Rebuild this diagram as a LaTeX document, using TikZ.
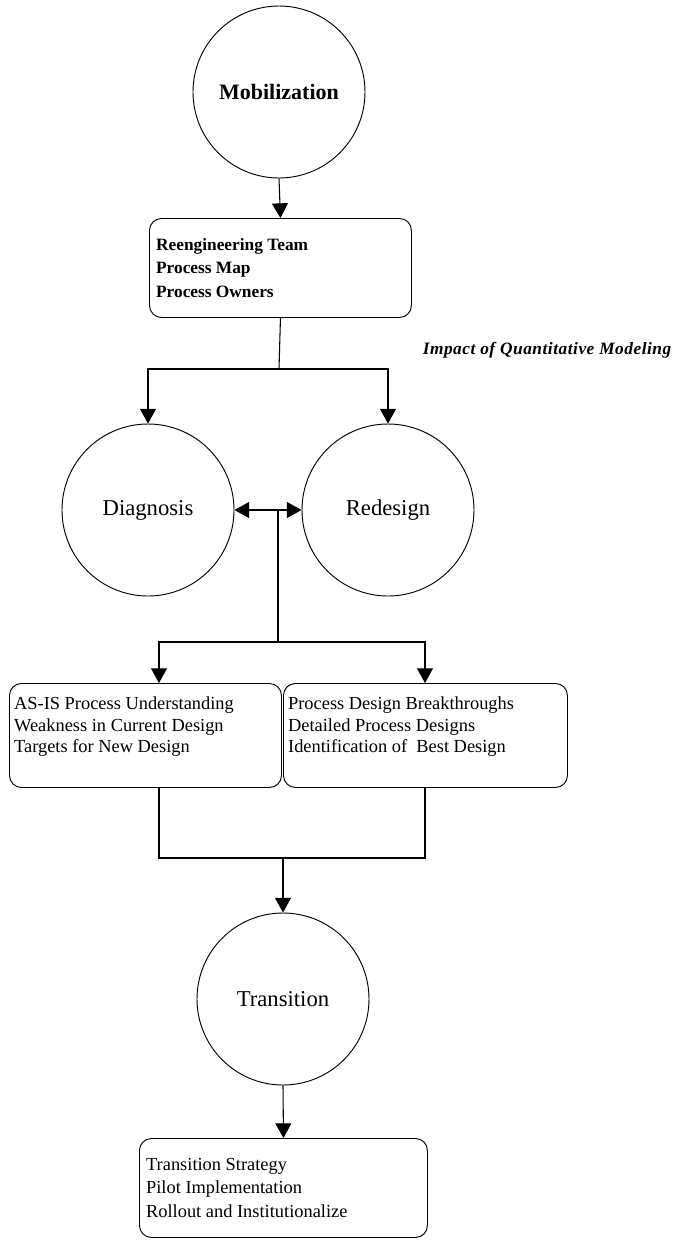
\documentclass[tikz,border=0pt]{standalone}
\usepackage{fontspec}
\setmainfont{Liberation Serif}
\newfontfamily\lblfont[LetterSpace=3]{Liberation Serif}
\usetikzlibrary{arrows.meta}
\newcommand\boxc[4]{\begin{minipage}[c][#2][c]{#1}\raggedright\leftskip=#3\relax\parindent=0pt #4\par\end{minipage}}
\newcommand\boxt[5]{\begin{minipage}[c][#2][t]{#1}\raggedright\leftskip=#3\relax\parindent=0pt\vspace*{#4}#5\par\end{minipage}}
\begin{document}
\begin{tikzpicture}[x=0.75pt,y=-0.75pt,
  circ/.style={circle, draw, line width=0.7pt, minimum size=129pt, inner sep=0pt},
  box/.style={draw, rounded corners=9pt, line width=0.7pt, inner sep=0pt, anchor=north west},
  conn/.style={line width=0.8pt},
  arr/.style={conn, -{Triangle[length=11pt,width=12pt]}},
  darr/.style={conn, {Triangle[length=11pt,width=12pt]}-{Triangle[length=11pt,width=12pt]}},
  boldcirc/.style={font=\fontsize{16.5}{19}\selectfont\bfseries},
  plaincirc/.style={font=\fontsize{17}{20}\selectfont}]
\useasboundingbox (0,0) rectangle (677,1240);

\node[circ, boldcirc] (mob) at (279,92) {Mobilization};
\node[box] (b1) at (149,218) {\boxc{196.5pt}{74.25pt}{5pt}{\fontsize{13}{17.6}\selectfont\bfseries Reengineering Team\\Process Map\\Process Owners}};
\node[anchor=east, font=\fontsize{13}{16}\selectfont\lblfont\bfseries\itshape] (lbl) at (676,350) {Impact of Quantitative Modeling};

\node[circ, plaincirc] (diag) at (148,510) {Diagnosis};
\node[circ, plaincirc] (red) at (388,510) {Redesign};

\node[box] (lb) at (9,683) {\boxt{204pt}{78pt}{3.5pt}{10pt}{\fontsize{13.8}{16.2}\selectfont AS-IS Process Understanding\\Weakness in Current Design\\Targets for New Design}};
\node[box] (rb) at (283,683) {\boxt{213pt}{78pt}{3.5pt}{10pt}{\fontsize{13.8}{16.2}\selectfont Process Design Breakthroughs\\Detailed Process Designs\\Identification of\ \ Best Design}};

\node[circ, plaincirc] (tr) at (283,999) {Transition};
\node[box] (bb) at (139,1138) {\boxc{216pt}{74.25pt}{5pt}{\fontsize{13.8}{17.6}\selectfont Transition Strategy\\Pilot Implementation\\Rollout and Institutionalize}};

\coordinate (s1) at (279,369);
\coordinate (m) at (278,510);
\coordinate (s2) at (278,642);
\coordinate (c1) at (159,858);
\coordinate (c2) at (425,858);
\coordinate (c3) at (283,858);

\draw[arr] (mob.south) -- (b1.north);
\draw[conn] (b1.south) -- (s1);
\draw[arr] (s1) -| (diag.north);
\draw[arr] (s1) -| (red.north);
\draw[darr] (diag.east) -- (red.west);
\draw[conn] (m) -- (s2);
\draw[arr] (s2) -| (lb.north -| c1);
\draw[arr] (s2) -| (rb.north -| c2);
\draw[conn] (lb.south -| c1) -- (c1) -- (c2) -- (rb.south -| c2);
\draw[arr] (c3) -- (tr.north);
\draw[arr] (tr.south) -- (bb.north);
\end{tikzpicture}
\end{document}
